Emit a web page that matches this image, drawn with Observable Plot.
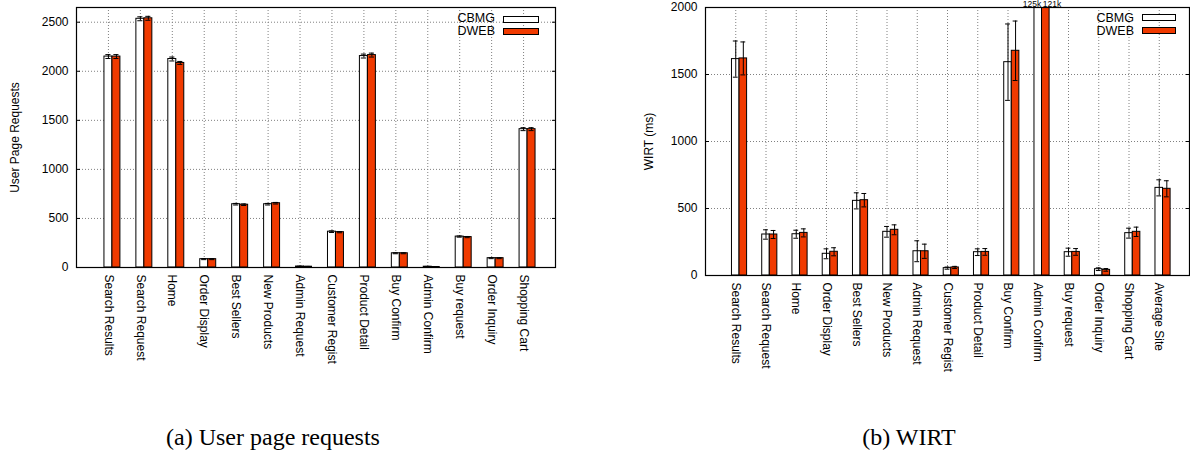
<!DOCTYPE html>
<html>
<head>
<meta charset="utf-8">
<script src="https://cdn.jsdelivr.net/npm/d3@7"></script>
<script src="https://cdn.jsdelivr.net/npm/@observablehq/plot@0.6"></script>
<style>
  html, body { margin: 0; padding: 0; background: #fff; }
  #wrap { position: relative; width: 1190px; height: 476px; overflow: hidden; background: #fff;
          font-family: "Liberation Sans", Arial, Helvetica, sans-serif; }
  .chart { position: absolute; top: 0; }
  .cap { position: absolute; top: 425px; font-family: "Liberation Serif", "Times New Roman", serif;
         font-size: 24px; line-height: 1; white-space: nowrap; transform: translateX(-50%); color: #000; }
  .legtext { position: absolute; font-size: 12.5px; line-height: 1; color: #000; text-align: right; }
  .legbox { position: absolute; box-sizing: border-box; border: 1px solid #000; }
</style>
</head>
<body>
<div id="wrap">
  <div class="chart" id="left" style="left:0px;width:560px;height:400px;"></div>
  <div class="chart" id="right" style="left:620px;width:570px;height:400px;"></div>
  <div class="cap" style="left:273px;">(a) User page requests</div>
  <div class="cap" style="left:909px;">(b) WIRT</div>
</div>
<script>
// ---------------- Data: (a) User page requests ----------------
const leftCategories = ["Search Results", "Search Request", "Home", "Order Display", "Best Sellers",
  "New Products", "Admin Request", "Customer Regist", "Product Detail", "Buy Confirm",
  "Admin Confirm", "Buy request", "Order Inquiry", "Shopping Cart"];
const leftCBMG    = [2150, 2535, 2125, 85, 645, 645, 10, 365, 2155, 145, 8, 315, 95, 1410];
const leftDWEB    = [2150, 2540, 2085, 85, 640, 655,  8, 360, 2165, 145, 5, 310, 95, 1410];
const leftCBMGErr = [20, 20, 20, 5, 8, 8, 3, 8, 20, 5, 3, 6, 5, 15];
const leftDWEBErr = [20, 20, 15, 5, 8, 8, 3, 6, 20, 5, 3, 6, 5, 15];
const leftYTicks  = [0, 500, 1000, 1500, 2000, 2500];
const leftYMax    = 2650;

// ---------------- Data: (b) WIRT ----------------
const rightCategories = ["Search Results", "Search Request", "Home", "Order Display", "Best Sellers",
  "New Products", "Admin Request", "Customer Regist", "Product Detail", "Buy Confirm",
  "Admin Confirm", "Buy request", "Order Inquiry", "Shopping Cart", "Average Site"];
const rightCBMG    = [1615, 306, 308, 162, 557, 326, 181, 55, 174, 1592, 125000, 174, 47, 316, 654];
const rightDWEB    = [1620, 306, 318, 177, 562, 341, 181, 60, 176, 1677, 121000, 176, 42, 326, 647];
const rightCBMGErr = [135, 35, 30, 37, 60, 40, 78, 8, 25, 285, 0, 30, 10, 37, 60];
const rightDWEBErr = [123, 30, 30, 30, 50, 37, 53, 8, 25, 222, 0, 25, 10, 35, 60];
const rightYTicks  = [0, 500, 1000, 1500, 2000];
const rightYMax    = 2000;

const seriesNames  = ["CBMG", "DWEB"];
const seriesFill   = {CBMG: "#ffffff", DWEB: "#f03a00"};
const seriesOffset = {CBMG: 0, DWEB: 0.25};

function rows(cats, a, b, ea, eb) {
  const out = [];
  cats.forEach((c, k) => {
    out.push({i: k + 1, cat: c, s: "CBMG", v: a[k], e: ea[k]});
    out.push({i: k + 1, cat: c, s: "DWEB", v: b[k], e: eb[k]});
  });
  return out;
}

function fmtK(v) { return Math.round(v / 1000) + "k"; }

function chart(cfg) {
  const data = rows(cfg.cats, cfg.a, cfg.b, cfg.ea, cfg.eb);
  const n = cfg.cats.length;
  const xTicks = d3.range(1, n + 1);
  const ymax = cfg.ymax;
  const cx = d => d.i + seriesOffset[d.s];
  const withErr = data.filter(d => d.e > 0 && d.v <= ymax);
  const overA = data.filter(d => d.v > ymax && d.s === "CBMG");
  const overB = data.filter(d => d.v > ymax && d.s === "DWEB");
  const dash = {stroke: "#808080", strokeOpacity: 1, strokeDasharray: "1,2", strokeWidth: 1};
  return Plot.plot({
    width: cfg.width, height: cfg.height,
    marginLeft: cfg.ml, marginRight: cfg.mr, marginTop: cfg.mt, marginBottom: cfg.mb,
    style: {fontFamily: "'Liberation Sans', Arial, sans-serif", fontSize: "12px", background: "transparent", overflow: "visible", color: "#000"},
    x: {domain: [0, n + 1]},
    y: {domain: [0, ymax]},
    marks: [
      Plot.gridY(cfg.yTicks, dash),
      Plot.gridX(xTicks, dash),
      Plot.rectY(data, {x1: d => cx(d) - 0.125, x2: d => cx(d) + 0.125, y1: 0, y2: "v",
        fill: d => seriesFill[d.s], stroke: "#000", strokeWidth: 1, clip: true}),
      Plot.ruleX(withErr, {x: cx, y1: d => d.v - d.e, y2: d => d.v + d.e, stroke: "#000", strokeWidth: 1}),
      Plot.ruleY(withErr, {x1: d => cx(d) - 0.08, x2: d => cx(d) + 0.08, y: d => d.v + d.e, stroke: "#000", strokeWidth: 1}),
      Plot.ruleY(withErr, {x1: d => cx(d) - 0.08, x2: d => cx(d) + 0.08, y: d => d.v - d.e, stroke: "#000", strokeWidth: 1}),
      Plot.text(overA, {x: d => cx(d) + 0.1, y: () => ymax, text: d => fmtK(d.v),
        textAnchor: "end", lineAnchor: "bottom", dy: -1, fontSize: 8.5, fill: "#000"}),
      Plot.text(overB, {x: d => cx(d) - 0.1, y: () => ymax, text: d => fmtK(d.v),
        textAnchor: "start", lineAnchor: "bottom", dy: -1, fontSize: 8.5, fill: "#000"}),
      Plot.axisY(cfg.yTicks, {anchor: "left", tickSize: -4, tickPadding: 12, tickFormat: "d",
        label: null, fontSize: 12}),
      Plot.axisY(cfg.yTicks, {anchor: "right", tickSize: -4, tickFormat: () => "", label: null}),
      Plot.text([cfg.ylabel], {frameAnchor: "left", rotate: -90, dx: -cfg.lo, text: d => d,
        fontSize: 12, fill: "#000", textAnchor: "middle", lineAnchor: "middle"}),
      Plot.axisX(xTicks, {anchor: "bottom", tickSize: 0, tickPadding: 7, tickRotate: 90,
        tickFormat: d => cfg.cats[d - 1], label: null, fontSize: 12}),
      Plot.frame({stroke: "#000", strokeWidth: 1.2})
    ]
  });
}

function legend(host, items) {
  items.forEach(it => {
    const t = document.createElement("div");
    t.className = "legtext";
    t.textContent = it.name;
    t.style.right = it.textRight + "px";
    t.style.top = it.textTop + "px";
    host.appendChild(t);
    const b = document.createElement("div");
    b.className = "legbox";
    b.style.left = it.boxLeft + "px";
    b.style.top = it.boxTop + "px";
    b.style.width = it.boxW + "px";
    b.style.height = it.boxH + "px";
    b.style.background = seriesFill[it.name];
    host.appendChild(b);
  });
}

const leftHost = document.getElementById("left");
leftHost.appendChild(chart({cats: leftCategories, a: leftCBMG, b: leftDWEB, ea: leftCBMGErr, eb: leftDWEBErr,
  yTicks: leftYTicks, ymax: leftYMax, width: 560, height: 382, ml: 76, mr: 5, mt: 7, mb: 115,
  ylabel: "User Page Requests", lo: 61}));
legend(leftHost, [
  {name: "CBMG", textRight: 560 - 495, textTop: 12, boxLeft: 503, boxTop: 16, boxW: 36, boxH: 7},
  {name: "DWEB", textRight: 560 - 495, textTop: 25, boxLeft: 503, boxTop: 28, boxW: 36, boxH: 7}
]);

const rightHost = document.getElementById("right");
rightHost.appendChild(chart({cats: rightCategories, a: rightCBMG, b: rightDWEB, ea: rightCBMGErr, eb: rightDWEBErr,
  yTicks: rightYTicks, ymax: rightYMax, width: 570, height: 390, ml: 85, mr: 1, mt: 7, mb: 115,
  ylabel: "WIRT (ms)", lo: 56}));
legend(rightHost, [
  {name: "CBMG", textRight: 570 - 514, textTop: 12, boxLeft: 522, boxTop: 14, boxW: 34, boxH: 7},
  {name: "DWEB", textRight: 570 - 514, textTop: 25, boxLeft: 522, boxTop: 27, boxW: 34, boxH: 7}
]);
</script>
</body>
</html>
